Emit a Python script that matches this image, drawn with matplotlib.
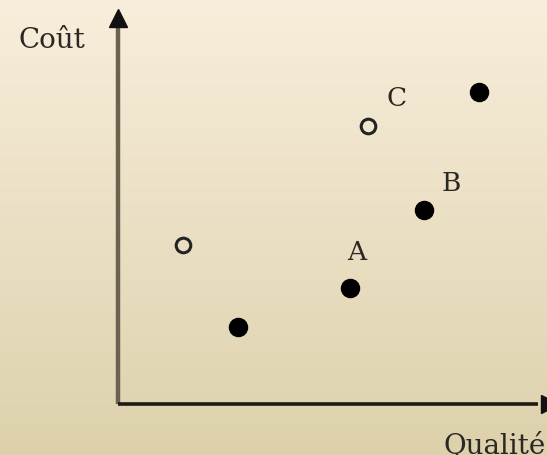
import numpy as np
import matplotlib.pyplot as plt

# positions (qualité, coût), unités arbitraires 0-10
filled_q = [2.80, 5.41, 7.13, 8.41]
filled_c = [1.95, 2.94, 4.91, 7.90]
open_q = [1.52, 5.83]
open_c = [4.03, 7.04]
labels = ["A", "B", "C"]
label_q = [5.57, 7.76, 6.50]
label_c = [3.85, 5.62, 7.77]

W, H = 547, 456
fig = plt.figure(figsize=(W / 100, H / 100), dpi=100)

# fond dégradé crème
bg = fig.add_axes([0, 0, 1, 1], zorder=-10)
top = np.array([248, 238, 219]) / 255
bot = np.array([221, 209, 172]) / 255
t = np.linspace(0, 1, 256)[:, None]
grad = top[None, :] * (1 - t) + bot[None, :] * t
bg.imshow(grad[:, None, :], aspect='auto', extent=[0, 1, 0, 1])
bg.axis('off')

ox, oy = 118, 405
ax = fig.add_axes([ox / W, (H - oy) / H, (W - ox) / W, (oy - 10) / H])
ax.set_xlim(0, 10)
ax.set_ylim(0, 10)
ax.patch.set_alpha(0)
for s in ax.spines.values():
    s.set_visible(False)
ax.set_xticks([])
ax.set_yticks([])

# axes avec flèches
ax.plot([0, 0], [0, 9.6], color='#6c6250', lw=3.2, clip_on=False, solid_capstyle='butt')
ax.plot([0, 9.8], [0, 0], color='#1e1a14', lw=2.6, clip_on=False, solid_capstyle='butt')
ax.plot([0], [9.78], marker='^', ms=13, color='#111111', clip_on=False)
ax.plot([10.07], [0], marker='>', ms=13, color='#111111', clip_on=False)

ax.plot(filled_q, filled_c, 'o', ms=13, color='black', clip_on=False)
ax.plot(open_q, open_c, 'o', ms=10.5, mfc='none', mec='#222222', mew=2.2, clip_on=False)

font = dict(family='DejaVu Serif', color='#2b2824')
for lab, q, c in zip(labels, label_q, label_c):
    ax.text(q, c, lab, fontsize=19, ha='center', va='center', **font)

ax.text(-1.54, 9.24, "Coût", fontsize=20, ha='center', va='center', clip_on=False, **font)
ax.text(7.58, -1.24, "Qualité", fontsize=20, ha='left', va='baseline', clip_on=False, **font)

fig.savefig('out.png', dpi=100)
